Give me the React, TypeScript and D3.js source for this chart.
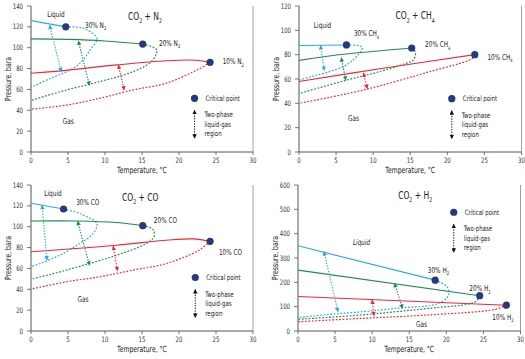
import React from "react";
import * as d3 from "d3";

type Pt = [number, number];
type Arrow = [number, number, number, number];

const tempTicks = [0, 5, 10, 15, 20, 25, 30];
const pressTicks140 = [0, 20, 40, 60, 80, 100, 120, 140];
const pressTicks120 = [0, 20, 40, 60, 80, 100, 120];
const pressTicks600 = [0, 100, 200, 300, 400, 500, 600];

// ---- CO2 + N2 ----
const n2Liq30: Pt[] = [[0, 126], [4.7, 120]];
const n2Dew30: Pt[] = [[4.7, 120], [7.1, 118.5], [8.9, 109], [8.0, 98], [6.6, 85], [4.8, 77], [2.6, 70.5], [0, 62]];
const n2Liq20: Pt[] = [[0, 108.5], [5, 108], [10, 106.5], [15.1, 103.5]];
const n2Dew20: Pt[] = [[15.1, 103.5], [17, 98], [16.3, 87], [13.8, 77], [9.3, 67.5], [4.8, 59.5], [0, 49.5]];
const n2Liq10: Pt[] = [[0, 75.5], [5, 78.5], [11.6, 83.5], [18.3, 87.5], [22.3, 88], [24.2, 86]];
const n2Dew10: Pt[] = [[24.2, 86], [22.8, 80], [18.3, 66], [13.8, 59.5], [9.3, 51.5], [4.8, 45], [0, 41]];
const n2Arrows: Arrow[] = [[2.5, 121.5, 4.1, 77], [6.4, 106.4, 7.9, 64], [11.8, 83.4, 12.6, 59.4]];

// ---- CO2 + CH4 ----
const ch4Liq30: Pt[] = [[0, 87.5], [6.4, 88]];
const ch4Dew30: Pt[] = [[6.4, 88], [8.5, 86.3], [8.1, 80.8], [6.3, 71.2], [4.0, 65.8], [1.8, 62.2], [0, 59]];
const ch4Liq20: Pt[] = [[0, 75.3], [6.3, 80.5], [15.2, 85.5]];
const ch4Dew20: Pt[] = [[15.2, 85.5], [15.7, 82], [15.4, 75.5], [14.3, 72.6], [10.7, 65.8], [6.3, 58.9], [0, 48]];
const ch4Liq10: Pt[] = [[0, 58], [12, 69.5], [23.7, 80]];
const ch4Dew10: Pt[] = [[23.7, 80], [23.3, 76.7], [17.5, 65.8], [8.5, 50.7], [0, 40]];
const ch4Arrows: Arrow[] = [[2.9, 87.5, 3.4, 67], [5.7, 77.5, 6.3, 59], [8.7, 65, 9.2, 52]];

// ---- CO2 + CO ----
const coLiq30: Pt[] = [[0, 122.5], [4.4, 117]];
const coDew30: Pt[] = [[4.4, 117], [6.6, 112.5], [8.9, 103], [8.4, 93.4], [6.6, 84], [3.9, 72.7], [1.25, 64.7], [0, 61.5]];
const coLiq20: Pt[] = [[0, 105.5], [6.2, 105.5], [11.6, 104], [15.1, 101]];
const coDew20: Pt[] = [[15.1, 101], [16.5, 97.3], [16.6, 90.2], [15.6, 84], [11.6, 72.7], [7.1, 63.1], [2.6, 54.2], [0, 49.7]];
const coLiq10: Pt[] = [[0, 76], [11.6, 82.3], [18.3, 87], [21.9, 88.3], [24.2, 86]];
const coDew10: Pt[] = [[24.2, 86], [22.7, 77.5], [18.3, 64.7], [13.8, 58.4], [9.3, 52], [4.8, 47.2], [0, 40.2]];
const coArrows: Arrow[] = [[1.5, 120.5, 2.15, 67.9], [6.3, 105.2, 7.9, 63.1], [11.1, 81.3, 11.7, 57.7]];

// ---- CO2 + H2 ----
const h2Liq30: Pt[] = [[0, 350], [18.5, 209]];
const h2Dew30: Pt[] = [[18.5, 209], [20.1, 182], [20.3, 148], [19, 114], [13.1, 93], [8.6, 79], [4.1, 68], [0, 55]];
const h2Liq20: Pt[] = [[0, 250], [24.5, 145]];
const h2Dew20: Pt[] = [[24.5, 145], [23.9, 120], [17.6, 93], [13.1, 79], [8.6, 66], [0, 48]];
const h2Liq10: Pt[] = [[0, 142], [28.1, 106]];
const h2Dew10: Pt[] = [[28.1, 106], [26.6, 89], [17.6, 66], [8.6, 52], [0, 38]];
const h2Arrows: Arrow[] = [[3.5, 326, 5.4, 79], [13, 196, 14.1, 93], [10, 127, 10.25, 62]];

const seriesColors = ["#2aa9e0", "#1f8c4c", "#ec2833"];
const critColor = "#27397a";
const FONT = "'DejaVu Sans Condensed','DejaVu Sans','Open Sans',sans-serif";
const SX = 0.8;

type Seg = [string, boolean];
interface Label { t: number; p: number; segs: Seg[]; size?: number; italic?: boolean }
interface PanelCfg {
  x0: number; x1: number; yTop: number; yBottom: number; yMax: number; yTicks: number[];
  liq: Pt[][]; dew: Pt[][]; arrows: Arrow[];
  title: Label; labels: Label[]; legend: [number, number];
}

const panels: PanelCfg[] = [
  {
    x0: 31, x1: 253, yTop: 6, yBottom: 152, yMax: 140, yTicks: pressTicks140,
    liq: [n2Liq30, n2Liq20, n2Liq10], dew: [n2Dew30, n2Dew20, n2Dew10], arrows: n2Arrows,
    title: { t: 13.1, p: 126.5, segs: [["CO", false], ["2", true], [" + N", false], ["2", true]] },
    labels: [
      { t: 2.2, p: 129, segs: [["Liquid", false]] },
      { t: 7.3, p: 119, segs: [["30% N", false], ["2", true]] },
      { t: 17.3, p: 102, segs: [["20% N", false], ["2", true]] },
      { t: 25.9, p: 84, segs: [["10% N", false], ["2", true]] },
      { t: 4.3, p: 27, segs: [["Gas", false]] },
    ],
    legend: [22.1, 51.5],
  },
  {
    x0: 299, x1: 521.5, yTop: 6, yBottom: 152, yMax: 120, yTicks: pressTicks120,
    liq: [ch4Liq30, ch4Liq20, ch4Liq10], dew: [ch4Dew30, ch4Dew20, ch4Dew10], arrows: ch4Arrows,
    title: { t: 13.0, p: 109, segs: [["CO", false], ["2", true], [" + CH", false], ["4", true]] },
    labels: [
      { t: 2.0, p: 102, segs: [["Liquid", false]] },
      { t: 7.4, p: 95, segs: [["30% CH", false], ["4", true]] },
      { t: 17.0, p: 86, segs: [["20% CH", false], ["4", true]] },
      { t: 25.4, p: 76, segs: [["10% CH", false], ["4", true]] },
      { t: 6.6, p: 25.5, segs: [["Gas", false]] },
    ],
    legend: [20.6, 43.8],
  },
  {
    x0: 31, x1: 253, yTop: 185, yBottom: 331, yMax: 140, yTicks: pressTicks140,
    liq: [coLiq30, coLiq20, coLiq10], dew: [coDew30, coDew20, coDew10], arrows: coArrows,
    title: { t: 12.3, p: 125, segs: [["CO", false], ["2", true], [" + CO", false]] },
    labels: [
      { t: 1.8, p: 129, segs: [["Liquid", false]] },
      { t: 6.1, p: 120.5, segs: [["30% CO", false]] },
      { t: 16.6, p: 103.6, segs: [["20% CO", false]] },
      { t: 25.4, p: 72.4, segs: [["10% CO", false]] },
      { t: 6.3, p: 28, segs: [["Gas", false]] },
    ],
    legend: [22.2, 51.3],
  },
  {
    x0: 298, x1: 520.5, yTop: 185, yBottom: 331, yMax: 600, yTicks: pressTicks600,
    liq: [h2Liq30, h2Liq20, h2Liq10], dew: [h2Dew30, h2Dew20, h2Dew10], arrows: h2Arrows,
    title: { t: 13.5, p: 542, segs: [["CO", false], ["2", true], [" + H", false], ["2", true]] },
    labels: [
      { t: 7.4, p: 353, segs: [["Liquid", false]], italic: true },
      { t: 17.5, p: 240, segs: [["30% H", false], ["2", true]] },
      { t: 23.1, p: 163, segs: [["20% H", false], ["2", true]] },
      { t: 26.2, p: 45, segs: [["10% H", false], ["2", true]] },
      { t: 15.9, p: 15, segs: [["Gas", false]] },
    ],
    legend: [21.0, 488],
  },
];

function CT({ x, y, size, anchor, rotate, fill, children, italic }:
  { x: number; y: number; size: number; anchor?: string; rotate?: number; fill?: string; children: React.ReactNode; italic?: boolean }) {
  const tr = `translate(${x},${y})${rotate ? ` rotate(${rotate})` : ""} scale(${SX},1)`;
  return (
    <text transform={tr} fontSize={size} textAnchor={anchor || "start"} fill={fill || "#222"}
      fontStyle={italic ? "italic" : "normal"}>
      {children}
    </text>
  );
}

function Rich({ x, y, segs, size, italic }: { x: number; y: number; segs: Seg[]; size: number; italic?: boolean }) {
  let shifted = false;
  return (
    <CT x={x} y={y} size={size} italic={italic}>
      {segs.map(([s, sub], i) => {
        let dy = 0;
        if (sub && !shifted) { dy = size * 0.3; shifted = true; }
        else if (!sub && shifted) { dy = -size * 0.3; shifted = false; }
        return (
          <tspan key={i} dy={dy} fontSize={sub ? size * 0.62 : size}>{s}</tspan>
        );
      })}
    </CT>
  );
}

function Panel({ cfg }: { cfg: PanelCfg }) {
  const x = d3.scaleLinear().domain([0, 30]).range([cfg.x0, cfg.x1]);
  const y = d3.scaleLinear().domain([0, cfg.yMax]).range([cfg.yBottom, cfg.yTop]);
  const line = d3.line<Pt>().x((d) => x(d[0])).y((d) => y(d[1])).curve(d3.curveCatmullRom.alpha(0.5));
  const [lt, lp] = cfg.legend;
  const lx = x(lt), ly = y(lp);
  const axisColor = "#555";
  return (
    <g>
      <line x1={cfg.x1} x2={cfg.x1} y1={cfg.yTop} y2={cfg.yBottom} stroke="#888" strokeWidth={0.8} />
      <line x1={cfg.x0} x2={cfg.x1} y1={cfg.yBottom} y2={cfg.yBottom} stroke={axisColor} strokeWidth={1} />
      <line x1={cfg.x0} x2={cfg.x0} y1={cfg.yTop} y2={cfg.yBottom} stroke={axisColor} strokeWidth={1} />
      {tempTicks.map((t) => (
        <g key={"xt" + t}>
          <line x1={x(t)} x2={x(t)} y1={cfg.yBottom} y2={cfg.yBottom + 3} stroke={axisColor} strokeWidth={0.8} />
          <CT x={x(t)} y={cfg.yBottom + 11} size={7.5} anchor="middle" fill="#333">{t}</CT>
        </g>
      ))}
      {cfg.yTicks.map((p) => (
        <g key={"yt" + p}>
          <line x1={cfg.x0 - 4} x2={cfg.x0} y1={y(p)} y2={y(p)} stroke={axisColor} strokeWidth={0.8} />
          <CT x={cfg.x0 - 8} y={y(p) + 2.6} size={7.5} anchor="end" fill="#333">{p}</CT>
        </g>
      ))}
      <CT x={(cfg.x0 + cfg.x1) / 2} y={cfg.yBottom + 21} size={8.5} anchor="middle">Temperature, °C</CT>
      <CT x={cfg.x0 - 20} y={(cfg.yTop + cfg.yBottom) / 2} size={8.5} anchor="middle" rotate={-90}>Pressure, bara</CT>

      {cfg.dew.map((d, i) => (
        <path key={"dew" + i} d={line(d) || ""} fill="none" stroke={seriesColors[i]} strokeWidth={1.2} strokeDasharray="1.8,1.6" />
      ))}
      {cfg.liq.map((d, i) => (
        <path key={"liq" + i} d={line(d) || ""} fill="none" stroke={seriesColors[i]} strokeWidth={1.1} />
      ))}
      {cfg.arrows.map((a, i) => (
        <line key={"ar" + i} x1={x(a[0])} y1={y(a[1])} x2={x(a[2])} y2={y(a[3])}
          stroke={seriesColors[i]} strokeWidth={1.1} strokeDasharray="1.4,1.4"
          markerStart={`url(#ah${i})`} markerEnd={`url(#ah${i})`} />
      ))}
      {cfg.liq.map((d, i) => {
        const c = d[d.length - 1];
        return <circle key={"cp" + i} cx={x(c[0])} cy={y(c[1])} r={3.6} fill={critColor} />;
      })}
      <Rich x={x(cfg.title.t)} y={y(cfg.title.p)} segs={cfg.title.segs} size={10.5} />
      {cfg.labels.map((l, i) => (
        <Rich key={"lb" + i} x={x(l.t)} y={y(l.p)} segs={l.segs} size={8} italic={l.italic} />
      ))}
      <circle cx={lx} cy={ly} r={3.6} fill={critColor} />
      <CT x={lx + 11} y={ly + 2.5} size={7.5}>Critical point</CT>
      <line x1={lx} x2={lx} y1={ly + 12} y2={ly + 40} stroke="#111" strokeWidth={1} strokeDasharray="1.3,1.3"
        markerStart="url(#ahk)" markerEnd="url(#ahk)" />
      <CT x={lx + 10} y={ly + 19} size={7.5}>Two-phase</CT>
      <CT x={lx + 10} y={ly + 28.5} size={7.5}>liquid-gas</CT>
      <CT x={lx + 10} y={ly + 38} size={7.5}>region</CT>
    </g>
  );
}

export default function App() {
  const markerColors = [...seriesColors, "#111"];
  const ids = ["ah0", "ah1", "ah2", "ahk"];
  return (
    <svg width={525} height={359} style={{ position: "absolute", left: 0, top: 0, background: "#fff" }}
      fontFamily={FONT}>
      <defs>
        {markerColors.map((c, i) => (
          <marker key={ids[i]} id={ids[i]} viewBox="0 0 10 10" refX={9} refY={5}
            markerWidth={4.5} markerHeight={4.5} markerUnits="userSpaceOnUse" orient="auto-start-reverse">
            <path d="M0,0 L10,5 L0,10 z" fill={c} />
          </marker>
        ))}
      </defs>
      <rect x={0} y={0} width={525} height={359} fill="#fff" />
      {panels.map((p, i) => (
        <Panel key={i} cfg={p} />
      ))}
    </svg>
  );
}
